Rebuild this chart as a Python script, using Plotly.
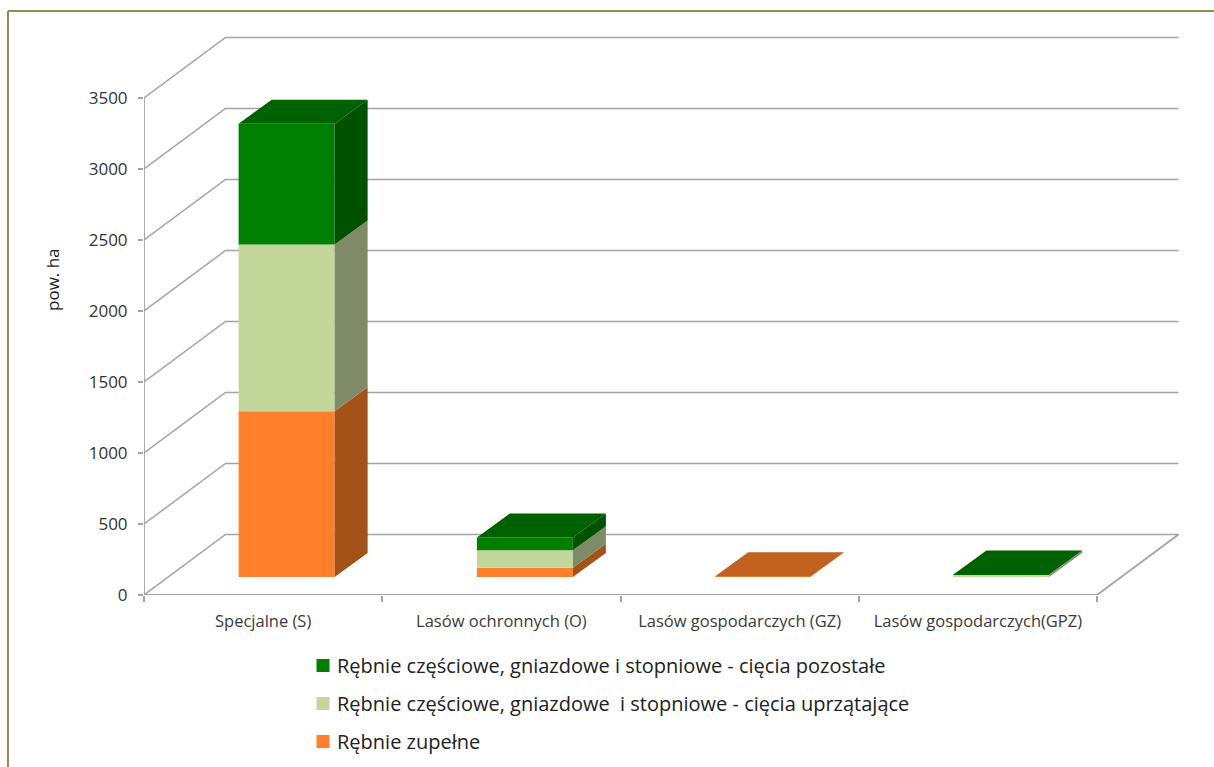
import plotly.graph_objects as go

# ---- data ----
categories = ["Specjalne (S)", "Lasów ochronnych (O)", "Lasów gospodarczych (GZ)", "Lasów gospodarczych(GPZ)"]
zupelne = [1167, 66, 5, 1]
uprzatajace = [1174, 122, 0, 14]
pozostale = [851, 91, 0, 3]
y_ticks = [0, 500, 1000, 1500, 2000, 2500, 3000, 3500]
names = [
    "Rębnie zupełne",
    "Rębnie częściowe, gniazdowe  i stopniowe - cięcia uprzątające",
    "Rębnie częściowe, gniazdowe i stopniowe - cięcia pozostałe",
]
series = [zupelne, uprzatajace, pozostale]
front_colors = ["#FF7F2A", "#C4D79B", "#007F00"]
side_colors = ["#A35218", "#7F8B66", "#005200"]
top_colors = ["#C1601F", "#9CAB7C", "#006100"]

# ---- geometry (page pixels -> axis units) ----
W, H = 1214, 767
PX_LEFT, PX_RIGHT, PX_BOTTOM, PX_TOP = 144, 1190, 595, 30
PX_PER_CAT = 238.25
PX_PER_VAL = 0.142
x_range = [-0.5, -0.5 + (PX_RIGHT - PX_LEFT) / PX_PER_CAT]
y_range = [0, (PX_BOTTOM - PX_TOP) / PX_PER_VAL]
WALL_DX, WALL_DY = 81.5 / PX_PER_CAT, 60.5 / PX_PER_VAL     # depth of the floor
BAR_DX, BAR_DY = 33 / PX_PER_CAT, 24 / PX_PER_VAL           # depth of a bar
BAR_SHIFT_X, BAR_SHIFT_Y = 23.5 / PX_PER_CAT, 18 / PX_PER_VAL
BAR_W = 96 / PX_PER_CAT
XL, XR = -0.5, len(categories) - 0.5
GRID = "#A3A3A3"
FONT = "Open Sans"

fig = go.Figure()

# scaffold on the primary axes (below the bars)
wall_x, wall_y = [], []
for t in y_ticks:
    wall_x += [XL, XL + WALL_DX, XR + WALL_DX, None]
    wall_y += [t, t + WALL_DY, t + WALL_DY, None]
fig.add_trace(go.Scatter(x=wall_x, y=wall_y, mode="lines", line=dict(color=GRID, width=1.5),
                         showlegend=False, hoverinfo="skip", cliponaxis=False))
frame_x = [XL, XL, None, XL, XR, XR + WALL_DX]
frame_y = [y_ticks[0], y_ticks[-1], None, 0, 0, WALL_DY]
fig.add_trace(go.Scatter(x=frame_x, y=frame_y, mode="lines", line=dict(color=GRID, width=1.8),
                         showlegend=False, hoverinfo="skip", cliponaxis=False))

# legend entries, top to bottom
for i in [2, 1, 0]:
    fig.add_trace(go.Scatter(x=[None], y=[None], mode="markers", name=names[i], legendgroup=names[i],
                             marker=dict(symbol="square", size=13, color=front_colors[i]),
                             hoverinfo="skip"))

# bars on the overlay axes
bar_x = [i + BAR_SHIFT_X for i in range(len(categories))]
bottoms = [0.0] * len(categories)
for s, vals in enumerate(series):
    bases = [b + BAR_SHIFT_Y for b in bottoms]
    fig.add_trace(go.Bar(x=bar_x, y=vals, base=bases, width=BAR_W, xaxis="x2", yaxis="y2",
                         marker=dict(color=front_colors[s], line=dict(width=0)),
                         showlegend=False, name=names[s]))
    side_x, side_y, top_x, top_y = [], [], [], []
    for c, v in enumerate(vals):
        if v <= 0:
            continue
        r = bar_x[c] + BAR_W / 2
        l = bar_x[c] - BAR_W / 2
        b = bases[c]
        t = b + v
        side_x += [r, r + BAR_DX, r + BAR_DX, r, r, None]
        side_y += [b, b + BAR_DY, t + BAR_DY, t, b, None]
        # a top face is only visible when nothing is stacked above it
        above = sum(series[k][c] for k in range(s + 1, len(series)))
        if above == 0:
            top_x += [l, r, r + BAR_DX, l + BAR_DX, l, None]
            top_y += [t, t, t + BAR_DY, t + BAR_DY, t, None]
    fig.add_trace(go.Scatter(x=side_x, y=side_y, mode="lines", fill="toself", fillcolor=side_colors[s],
                             line=dict(width=0, color=side_colors[s]), xaxis="x2", yaxis="y2",
                             showlegend=False, hoverinfo="skip"))
    if top_x:
        fig.add_trace(go.Scatter(x=top_x, y=top_y, mode="lines", fill="toself", fillcolor=top_colors[s],
                                 line=dict(width=0, color=top_colors[s]), xaxis="x2", yaxis="y2",
                                 showlegend=False, hoverinfo="skip"))
    bottoms = [b + v for b, v in zip(bottoms, vals)]

x_domain = [PX_LEFT / W, PX_RIGHT / W]
y_domain = [1 - PX_BOTTOM / H, 1 - PX_TOP / H]
cat_centres = list(range(len(categories)))
boundaries = [c - 0.5 for c in range(len(categories) + 1)]

fig.update_layout(
    width=W, height=H,
    margin=dict(l=0, r=0, t=0, b=0, autoexpand=False),
    paper_bgcolor="white", plot_bgcolor="rgba(0,0,0,0)",
    barmode="overlay",
    font=dict(family=FONT, color="#333333"),
    xaxis=dict(domain=x_domain, range=x_range, tickmode="array", tickvals=cat_centres, ticktext=categories,
               tickangle=0, showgrid=False, zeroline=False, showline=False, ticks="",
               ticklabelstandoff=14, tickfont=dict(size=16.5, color="#3a3a3a"),
               minor=dict(tickmode="array", tickvals=boundaries, ticks="outside", ticklen=6, tickcolor=GRID,
                          tickwidth=1.5, showgrid=False)),
    yaxis=dict(domain=y_domain, range=y_range, tickmode="array", tickvals=y_ticks,
               showgrid=False, zeroline=False, showline=False, ticks="outside", ticklen=5, tickcolor=GRID,
               tickwidth=1.5, ticklabelstandoff=7, tickfont=dict(size=17, color="#333333")),
    xaxis2=dict(domain=x_domain, range=x_range, overlaying="x", visible=False),
    yaxis2=dict(domain=y_domain, range=y_range, overlaying="y", visible=False),
    legend=dict(x=297 / W, y=1 - 646 / H, xanchor="left", yanchor="top",
                traceorder="grouped", tracegroupgap=9, font=dict(size=20, color="#222222"),
                bgcolor="rgba(0,0,0,0)", borderwidth=0),
    annotations=[dict(text="pow. ha", textangle=-90, xref="paper", yref="paper", x=52 / W, y=1 - 280 / H,
                      xanchor="center", yanchor="middle", showarrow=False,
                      font=dict(size=17, color="#222222"))],
    shapes=[dict(type="line", xref="paper", yref="paper", x0=8 / W, x1=1, y0=1 - 11 / H, y1=1 - 11 / H,
                 line=dict(color="#948A54", width=2)),
            dict(type="line", xref="paper", yref="paper", x0=8 / W, x1=8 / W, y0=1 - 11 / H, y1=0,
                 line=dict(color="#948A54", width=2))],
)

post = """
document.body.style.margin = '0';
document.querySelectorAll('.legend .legendsymbols').forEach(function (e) {
  e.setAttribute('transform', 'translate(6,0)');
});
"""
fig.write_html("out.html", post_script=post, config={"displayModeBar": False})
